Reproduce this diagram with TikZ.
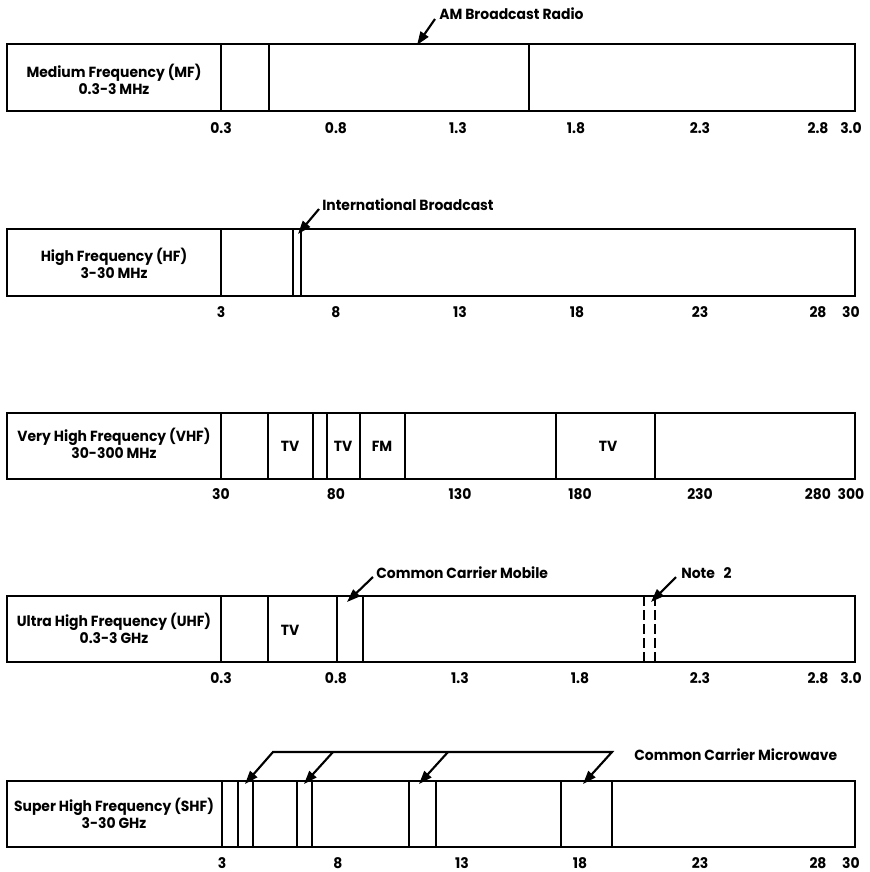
\documentclass[tikz,border=0pt]{standalone}
\usepackage{fontspec}
\setmainfont{Poppins}[FakeStretch=0.95]
\usetikzlibrary{arrows.meta}
\begin{document}
\begin{tikzpicture}[x=0.75pt,y=-0.75pt,
  band/.style={draw, line width=1.5pt},
  divl/.style={line width=1.4pt},
  dashdiv/.style={line width=1.6pt, dash pattern=on 7.5pt off 3pt},
  txt/.style={font=\fontsize{11}{12.75}\selectfont\bfseries, inner sep=0pt},
  call/.style={-{Triangle[length=10pt,width=7pt]}, line width=1.6pt},
  dcall/.style={{Triangle[length=10pt,width=7pt]}-{Triangle[length=10pt,width=7pt]}, line width=1.6pt, line join=miter}]
\useasboundingbox (0,0) rectangle (870,872);

% ---------- MF ----------
\draw[band] (7,44) rectangle (855,111);
\foreach \x in {221,269,529} \draw[divl] (\x,44) -- (\x,111);
\node[txt, align=center] (mfname) at (114,79) {Medium Frequency (MF)\\0.3-3 MHz};
\foreach \x/\t in {221/0.3,336/0.8,458/1.3,576/1.8,700/2.3,818/2.8,851/3.0}
  \node[txt] at (\x,128) {\t};
\node[txt, anchor=west] (am) at (439,14) {AM Broadcast Radio};
\coordinate (amtail) at (435,19);
\coordinate (amtip) at (417,45);
\draw[call] (amtail) -- (amtip);

% ---------- HF ----------
\draw[band] (7,229) rectangle (855,296);
\foreach \x in {221,293,301} \draw[divl] (\x,229) -- (\x,296);
\node[txt, align=center] (hfname) at (114,263) {High Frequency (HF)\\3-30 MHz};
\foreach \x/\t in {221/3,336/8,460/13,577/18,700/23,818/28,851/30}
  \node[txt] at (\x,312) {\t};
\node[txt, anchor=west] (ib) at (322,205) {International Broadcast};
\coordinate (ibtail) at (319,209);
\coordinate (ibtip) at (298,234);
\draw[call] (ibtail) -- (ibtip);

% ---------- VHF ----------
\draw[band] (7,413) rectangle (855,479);
\foreach \x in {221,268,313,327,360,405,556,655} \draw[divl] (\x,413) -- (\x,479);
\node[txt, align=center] (vhfname) at (114,443) {Very High Frequency (VHF)\\30-300 MHz};
\node[txt] (tv1) at (290,446) {TV};
\node[txt] (tv2) at (343,446) {TV};
\node[txt] (fm) at (382,446) {FM};
\node[txt] (tv3) at (608,446) {TV};
\foreach \x/\t in {221/30,336/80,460/130,580/180,700/230,818/280,851/300}
  \node[txt] at (\x,494) {\t};

% ---------- UHF ----------
\draw[band] (7,596) rectangle (855,662);
\foreach \x in {221,268,337,363} \draw[divl] (\x,596) -- (\x,662);
\foreach \x in {644,655} \draw[dashdiv] (\x,596) -- (\x,662);
\node[txt, align=center] (uhfname) at (114,628) {Ultra High Frequency (UHF)\\0.3-3 GHz};
\node[txt] (tv4) at (290,630) {TV};
\foreach \x/\t in {221/0.3,336/0.8,460/1.3,580/1.8,700/2.3,818/2.8,851/3.0}
  \node[txt] at (\x,678) {\t};
\node[txt, anchor=west] (ccm) at (376,573) {Common Carrier Mobile};
\coordinate (ccmtail) at (373,577);
\coordinate (ccmtip) at (347,602);
\draw[call] (ccmtail) -- (ccmtip);
\node[txt, anchor=west] (note) at (681,573) {Note\hspace{0.6em}2};
\coordinate (notetail) at (676,577);
\coordinate (notetip) at (651,602);
\draw[call] (notetail) -- (notetip);

% ---------- SHF ----------
\draw[band] (7,781) rectangle (855,847);
\foreach \x in {222,238,253,297,312,409,436,561,612} \draw[divl] (\x,781) -- (\x,847);
\node[txt, align=center] (shfname) at (114,813) {Super High Frequency (SHF)\\3-30 GHz};
\foreach \x/\t in {222/3,338/8,462/13,580/18,700/23,818/28,851/30}
  \node[txt] at (\x,863) {\t};
\node[txt, anchor=west] (ccmw) at (634,755) {Common Carrier Microwave};
\coordinate (b1) at (273,752);
\coordinate (b2) at (333,752);
\coordinate (b3) at (448,752);
\coordinate (b4) at (612,752);
\coordinate (t1) at (245,784);
\coordinate (t2) at (304,784);
\coordinate (t3) at (419,784);
\coordinate (t4) at (583,784);
\draw[dcall] (t4) -- (b4) -- (b1) -- (t1);
\draw[call] (b2) -- (t2);
\draw[call] (b3) -- (t3);
\end{tikzpicture}
\end{document}
